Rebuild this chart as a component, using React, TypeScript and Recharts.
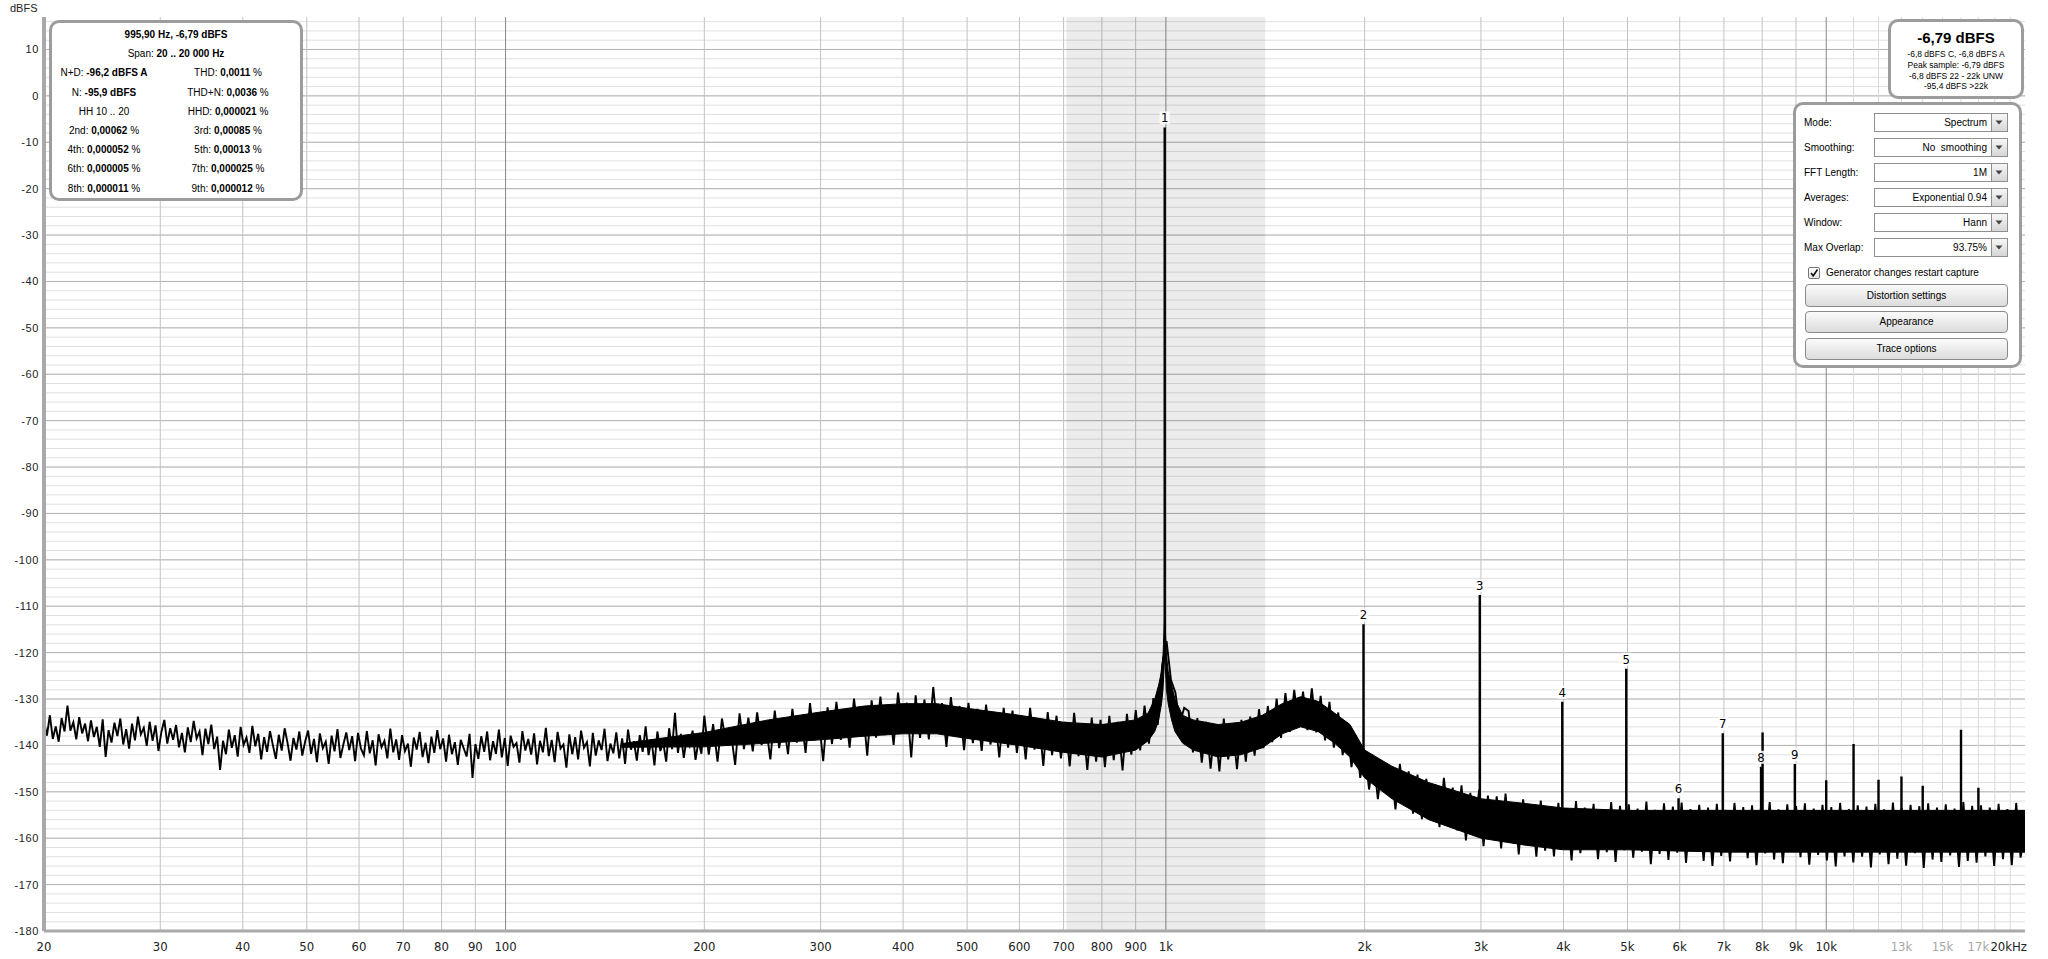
import React from "react";
import {
  ComposedChart, Line, Area, Scatter, XAxis, YAxis, CartesianGrid, ReferenceArea,
} from "recharts";

// noise trace, log-spaced bins per decade (dBFS)
const lowDecade = [ // 20 .. 200 Hz, 225 bins
  -134.8, -137.9, -133.5, -138.6, -135.9, -139.2, -134.1, -137.0, -131.4, -136.8, -135.0, -138.7, -133.9, -137.4, -135.3,
  -139.1, -134.6, -138.2, -136.0, -140.3, -134.4, -142.5, -136.7, -139.4, -135.1, -138.0, -134.2, -139.8, -136.5, -140.7,
  -135.3, -138.9, -133.8, -137.6, -136.2, -140.1, -134.9, -139.0, -135.7, -141.2, -137.1, -134.5, -139.6, -136.3, -138.8,
  -135.6, -140.4, -137.3, -141.5, -136.1, -139.3, -134.7, -138.5, -137.0, -142.1, -136.4, -139.7, -135.5, -140.8, -138.1,
  -145.3, -139.0, -141.9, -136.6, -140.5, -137.8, -142.4, -136.0, -139.9, -138.3, -141.6, -135.8, -140.2, -137.5, -143.0,
  -138.2, -141.4, -136.9, -140.0, -142.9, -137.7, -141.1, -136.3, -139.5, -143.3, -138.4, -140.9, -137.0, -142.2, -139.1,
  -136.8, -141.8, -138.6, -143.6, -137.4, -140.6, -139.2, -144.0, -137.9, -141.3, -136.5, -142.7, -139.8, -137.2, -141.0,
  -138.0, -143.4, -137.3, -140.7, -142.1, -136.9, -141.7, -138.9, -144.3, -137.6, -140.4, -139.0, -142.8, -136.4, -141.5,
  -138.7, -143.1, -137.8, -141.2, -139.6, -144.6, -138.3, -140.9, -137.1, -142.5, -139.4, -143.8, -138.1, -141.6, -136.7,
  -140.8, -138.5, -143.5, -137.7, -141.9, -139.3, -144.2, -138.8, -140.6, -142.4, -137.5, -147.0, -139.7, -142.9, -138.0,
  -141.4, -137.0, -143.2, -139.1, -141.8, -136.6, -142.6, -138.4, -144.4, -137.9, -140.3, -139.5, -143.7, -136.9, -141.1,
  -138.6, -142.0, -137.4, -144.1, -139.0, -141.5, -136.2, -142.3, -138.8, -143.6, -137.1, -140.7, -139.8, -144.8, -137.6,
  -141.9, -138.2, -143.0, -136.8, -140.5, -139.3, -144.5, -137.3, -142.2, -138.9, -141.0, -136.4, -143.4, -139.6, -141.7,
  -137.2, -142.8, -138.5, -144.0, -136.6, -140.9, -139.1, -143.3, -137.8, -141.4, -135.9, -142.1, -138.7, -144.3, -137.0,
  -141.2, -139.4, -143.5, -136.3, -140.8, -133.0, -141.6, -137.5, -142.7, -138.3, -140.1, -136.8, -143.1, -139.0, -141.8,
];
const midDecade = [ // 200 .. 2000 Hz, 150 bins
  -133.6, -142.0, -135.4, -143.5, -134.2, -139.8, -136.9, -144.2, -133.1, -140.8,
  -134.0, -141.3, -132.9, -139.9, -135.8, -143.0, -132.5, -140.6, -134.7, -141.9,
  -132.1, -139.4, -133.7, -141.6, -130.9, -138.9, -134.2, -143.4, -131.8, -139.7,
  -130.6, -138.8, -132.4, -140.5, -129.9, -137.9, -131.7, -142.2, -130.3, -138.3,
  -129.5, -137.8, -131.3, -139.9, -128.6, -136.7, -130.8, -142.6, -129.2, -138.4,
  -130.1, -138.7, -127.4, -137.3, -130.9, -140.3, -129.6, -137.8, -131.5, -141.0,
  -130.8, -139.5, -132.1, -141.2, -131.2, -139.8, -133.4, -142.6, -131.9, -140.5,
  -132.5, -141.6, -133.8, -143.0, -131.9, -140.9, -134.3, -144.4, -132.8, -142.1,
  -133.6, -142.8, -134.9, -144.5, -133.0, -142.3, -135.2, -145.3, -134.0, -143.5,
  -134.5, -144.7, -133.6, -143.2, -134.9, -145.4, -133.2, -142.0, -132.4, -141.1,
  -131.4, -139.6, -129.8, -135.6, -122.8, -117.5, -125.9, -128.6, -135.4, -131.9,
  -132.6, -141.5, -134.1, -143.7, -134.9, -145.0, -135.5, -145.6, -134.2, -143.0,
  -136.0, -145.1, -134.5, -143.5, -133.8, -142.2, -132.2, -140.6, -131.5, -139.3,
  -129.9, -138.4, -128.7, -137.1, -128.0, -136.0, -128.4, -136.7, -127.7, -137.2,
  -129.3, -138.9, -130.6, -140.5, -132.9, -142.1, -135.1, -144.7, -137.8, -147.0,
];
const highDecade = [ // 2 .. 20 kHz, 150 bins
  -141.2, -149.5, -142.8, -151.6, -143.4, -150.2, -145.1, -153.8, -144.0, -152.3,
  -145.6, -154.7, -146.3, -155.9, -147.2, -154.1, -148.4, -157.6, -147.0, -156.2,
  -149.1, -158.3, -148.6, -160.5, -150.2, -158.8, -149.5, -161.7, -150.8, -159.6,
  -151.0, -162.2, -150.4, -160.8, -152.3, -163.5, -151.6, -161.1, -152.8, -164.0,
  -151.9, -162.7, -153.1, -163.9, -152.4, -161.6, -153.5, -164.8, -152.0, -163.2,
  -153.4, -162.1, -152.6, -164.5, -153.8, -163.0, -152.2, -165.1, -153.0, -162.6,
  -152.7, -164.2, -153.6, -162.9, -152.1, -165.6, -153.9, -163.4, -152.5, -164.7,
  -153.2, -163.1, -152.3, -165.3, -153.7, -162.4, -152.8, -164.9, -153.4, -166.0,
  -152.6, -163.8, -153.9, -165.0, -152.4, -162.7, -153.3, -164.3, -152.9, -165.8,
  -153.5, -163.3, -152.2, -164.6, -153.8, -165.4, -152.7, -162.8, -153.1, -164.1,
  -152.5, -165.7, -153.6, -163.6, -152.8, -164.8, -153.3, -166.1, -152.4, -163.9,
  -153.7, -165.2, -152.9, -164.0, -153.2, -166.3, -152.6, -163.5, -153.8, -165.6,
  -152.3, -164.4, -153.5, -165.9, -152.8, -163.2, -153.1, -166.4, -152.5, -164.6,
  -153.4, -165.1, -152.7, -163.7, -153.6, -166.2, -152.2, -164.9, -153.0, -165.3,
  -152.9, -163.9, -153.4, -166.0, -152.6, -164.5, -153.7, -165.8, -152.4, -164.2,
];
const traceEnd = -158.6;

// dense core of the noise band (incl. the skirt of the fundamental)
const bandFreq = [150, 200, 250, 300, 350, 400, 450, 500, 600, 700, 800, 900, 940, 962, 975, 985, 990, 994, 996, 998, 1002, 1008, 1020, 1032, 1060, 1100, 1200, 1300, 1400, 1500, 1600, 1700, 1800, 1900, 2000, 2200, 2500, 3000, 3500, 4000, 5000, 7000, 10000, 14000, 20000];
const bandHi = [-139.6, -137.2, -134.5, -132.8, -131.5, -131, -131, -132, -133.5, -135, -135.5, -134.5, -133, -130, -127, -124, -120.5, -115, -112, -115, -120.5, -124, -127, -130, -133.5, -134.5, -135.5, -135, -133.5, -131, -129.5, -130.5, -133, -135.5, -141, -144.5, -148, -151.5, -152.5, -153.5, -154, -154, -154, -154, -154];
const bandLo = [-140.4, -140.3, -139.5, -138.8, -138, -137.5, -137.5, -138.5, -140, -141.5, -142.5, -141, -139, -137, -134.5, -131, -128, -123, -120, -123, -128, -131, -134.5, -137, -139.5, -141, -142.5, -142, -140.5, -137.5, -136, -137, -139.5, -142.5, -147, -151.5, -156, -160, -161.5, -162.5, -162.5, -163, -163, -163, -163];

// fundamental + harmonics
const harmNo = ["1", "2", "3", "4", "5", "6", "7", "8", "9"];
const harmFreq = [995.9, 1991.8, 2987.7, 3983.6, 4979.5, 5975.4, 6971.3, 7967.2, 8963.1];
const harmDb = [-6.8, -113.9, -107.6, -130.6, -123.5, -151.4, -137.4, -144.6, -144.0];
const harmBase = [-118, -146, -155, -156, -156, -156, -156, -156, -156];

// other spurs
const spurFreq = [8010, 10000, 11000, 12000, 13000, 14000, 16000, 17000];
const spurDb = [-137.2, -147.5, -139.7, -147.4, -146.7, -148.7, -136.6, -149.1];

const xTicks = [20, 30, 40, 50, 60, 70, 80, 90, 100, 200, 300, 400, 500, 600, 700, 800, 900, 1000, 2000, 3000, 4000, 5000, 6000, 7000, 8000, 9000, 10000, 13000, 15000, 17000, 20000];
const xGrid = [30, 40, 50, 60, 70, 80, 90, 200, 300, 400, 500, 600, 700, 800, 900, 2000, 3000, 4000, 5000, 6000, 7000, 8000, 9000];
const xDecades = [100, 1000, 10000];
const xFine = [11000, 12000, 13000, 14000, 15000, 16000, 17000, 18000, 19000];
const yTicks = [10, 0, -10, -20, -30, -40, -50, -60, -70, -80, -90, -100, -110, -120, -130, -140, -150, -160, -170, -180];
const yMinor = Array.from({ length: 99 }, (_, i) => -180 + 2 * i);

const decades: [number, number[]][] = [[20, lowDecade], [200, midDecade], [2000, highDecade]];
const trace = decades.flatMap(([f0, vals]) => vals.map((v, i) => ({ f: f0 * Math.pow(10, i / vals.length), db: v })));
trace.push({ f: 20000, db: traceEnd });

const band = bandFreq.map((f, i) => ({ f, range: [bandLo[i], bandHi[i]] }));

const spikes: { f: number; db: number | null }[] = [];
harmFreq.forEach((f, i) => spikes.push({ f, db: harmBase[i] }, { f, db: harmDb[i] }, { f, db: null }));
spurFreq.forEach((f, i) => spikes.push({ f, db: -156 }, { f, db: spurDb[i] }, { f, db: null }));

const labels = harmFreq.map((f, i) => ({ f, db: harmDb[i], n: harmNo[i] }));

const NARROW = "'Liberation Sans Narrow', 'DejaVu Sans Condensed', 'Arial Narrow', sans-serif";
const UI = "'Liberation Sans', Arial, sans-serif";

function FreqTick(props: any) {
  const { x, y, payload } = props;
  const v = payload.value as number;
  const txt = v === 20000 ? "20kHz" : v >= 1000 ? `${v / 1000}k` : String(v);
  const faint = v === 13000 || v === 15000 || v === 17000;
  const anchor = v === 20000 ? "end" : "middle";
  const dx = v === 20000 ? 2 : 0;
  return (
    <text x={x + dx} y={y} dy="0.71em" textAnchor={anchor} fill={faint ? "#a8a8a8" : "#222"} fontSize={13} fontFamily={NARROW}>
      {txt}
    </text>
  );
}

function PeakLabel(props: any) {
  const { cx, cy, payload } = props;
  return (
    <g>
      <rect x={cx - 5} y={cy - 16} width={10} height={13} fill="#fff" fillOpacity={0.85} />
      <text x={cx} y={cy - 5} textAnchor="middle" fontSize={13} fontFamily={NARROW} fill="#000">{payload.n}</text>
    </g>
  );
}

const panel: React.CSSProperties = {
  position: "absolute", background: "#fff", border: "3px solid #9c9c9c", borderRadius: 10,
  boxSizing: "border-box", fontFamily: UI, color: "#000",
};

function Row({ l, lv, r, rv }: { l: string; lv?: string; r: string; rv: string }) {
  return (
    <div style={{ display: "flex", height: 19.2, alignItems: "center", fontSize: 10 }}>
      <div style={{ width: 104, textAlign: "center" }}>{l}{lv !== undefined && <b> {lv.replace(" %", "")}</b>}{lv && lv.endsWith("%") ? " %" : ""}</div>
      <div style={{ width: 144, textAlign: "center" }}>{r} <b>{rv.replace(" %", "")}</b>{rv.endsWith("%") ? " %" : ""}</div>
    </div>
  );
}

function Drop({ top, label, value }: { top: number; label: string; value: string }) {
  return (
    <>
      <div style={{ position: "absolute", left: 8, top, height: 19, lineHeight: "19px", fontSize: 10 }}>{label}</div>
      <div style={{ position: "absolute", left: 78, top, width: 118, height: 19, boxSizing: "border-box", border: "1px solid #8f8f8f", background: "#fff", fontSize: 10, lineHeight: "17px", textAlign: "right", paddingRight: 4, whiteSpace: "pre" }}>{value}</div>
      <div style={{ position: "absolute", left: 196, top, width: 16, height: 19, boxSizing: "border-box", border: "1px solid #8f8f8f", borderLeft: "none", background: "linear-gradient(#f6f6f6,#d6d6d6)" }}>
        <svg width={14} height={17} style={{ display: "block" }}><path d="M3.5 6.5 L10.5 6.5 L7 10.5 Z" fill="#444" /></svg>
      </div>
    </>
  );
}

function Btn({ top, h, text }: { top: number; h: number; text: string }) {
  return (
    <div style={{ position: "absolute", left: 9, top, width: 203, height: h, boxSizing: "border-box", border: "1px solid #8a8a8a", borderRadius: 4, background: "linear-gradient(#fbfbfb,#dcdcdc)", fontSize: 10, lineHeight: `${h - 2}px`, textAlign: "center" }}>{text}</div>
  );
}

export default function App() {
  return (
    <div style={{ position: "absolute", left: 0, top: 0, width: 2048, height: 959, background: "#fff", overflow: "hidden" }}>
      <ComposedChart width={2048} height={959} margin={{ top: 17, right: 23, bottom: 0, left: 4 }}>
        <CartesianGrid horizontal vertical={false} horizontalValues={yMinor} stroke="#e0e0e0" />
        <CartesianGrid horizontal vertical={false} horizontalValues={yTicks} stroke="#b4b4b4" />
        <CartesianGrid horizontal={false} vertical verticalValues={xFine} stroke="#dadada" />
        <CartesianGrid horizontal={false} vertical verticalValues={xGrid} stroke="#c2c2c2" />
        <CartesianGrid horizontal={false} vertical verticalValues={xDecades} stroke="#888" />
        <XAxis dataKey="f" type="number" scale="log" domain={[20, 20000]} allowDataOverflow ticks={xTicks}
          tick={<FreqTick />} tickLine={false} tickSize={0} tickMargin={11} height={28} interval={0}
          axisLine={{ stroke: "#a9a9a9", strokeWidth: 3 }} />
        <XAxis xAxisId="top" orientation="top" dataKey="f" type="number" scale="log" domain={[20, 20000]} height={0}
          tick={false} tickLine={false} axisLine={{ stroke: "#b9b9b9", strokeWidth: 2 }} />
        <YAxis type="number" domain={[-180, 17]} allowDataOverflow ticks={yTicks} interval={0} width={40}
          tickLine={false} tickSize={0} tickMargin={5}
          tick={{ fontSize: 11, fill: "#222", fontFamily: UI, letterSpacing: 0.6 }}
          axisLine={{ stroke: "#a9a9a9", strokeWidth: 4 }} />
        <YAxis yAxisId="right" orientation="right" type="number" domain={[-180, 17]} width={0}
          tick={false} tickLine={false} axisLine={{ stroke: "#b9b9b9", strokeWidth: 3 }} />
        <ReferenceArea x1={707} x2={1414} y1={-180} y2={17} fill="#000" fillOpacity={0.075} stroke="none" />
        <Area data={band} dataKey="range" type="linear" stroke="#000" strokeWidth={1} fill="#000" fillOpacity={1} isAnimationActive={false} />
        <Line data={trace} dataKey="db" type="linear" stroke="#000" strokeWidth={1.9} dot={false} isAnimationActive={false} />
        <Line data={spikes} dataKey="db" type="linear" stroke="#000" strokeWidth={2.4} dot={false} connectNulls={false} isAnimationActive={false} />
        <Scatter data={labels} dataKey="db" shape={<PeakLabel />} isAnimationActive={false} />
      </ComposedChart>

      <div style={{ position: "absolute", left: 10, top: 2, fontSize: 11, fontFamily: UI, color: "#222" }}>dBFS</div>

      <div style={{ ...panel, left: 49, top: 20, width: 254, height: 181, paddingTop: 2 }}>
        <div style={{ height: 19.2, lineHeight: "19.2px", fontSize: 10, textAlign: "center", fontWeight: 700 }}>995,90 Hz, -6,79 dBFS</div>
        <div style={{ height: 19.2, lineHeight: "19.2px", fontSize: 10, textAlign: "center" }}>Span: <b>20 .. 20 000 Hz</b></div>
        <Row l="N+D:" lv="-96,2 dBFS A" r="THD:" rv="0,0011 %" />
        <Row l="N:" lv="-95,9 dBFS" r="THD+N:" rv="0,0036 %" />
        <Row l="HH 10 .. 20" r="HHD:" rv="0,000021 %" />
        <Row l="2nd:" lv="0,00062 %" r="3rd:" rv="0,00085 %" />
        <Row l="4th:" lv="0,000052 %" r="5th:" rv="0,00013 %" />
        <Row l="6th:" lv="0,000005 %" r="7th:" rv="0,000025 %" />
        <Row l="8th:" lv="0,000011 %" r="9th:" rv="0,000012 %" />
      </div>

      <div style={{ ...panel, left: 1888, top: 19, width: 136, height: 80, textAlign: "center" }}>
        <div style={{ position: "absolute", left: 0, right: 0, top: 7, fontSize: 15, fontWeight: 700, lineHeight: "18px" }}>-6,79 dBFS</div>
        <div style={{ position: "absolute", left: 0, right: 0, top: 27, fontSize: 8.5, lineHeight: "10.8px" }}>
          <div>-6,8 dBFS C, -6,8 dBFS A</div>
          <div>Peak sample: -6,79 dBFS</div>
          <div>-6,8 dBFS 22 - 22k UNW</div>
          <div>-95,4 dBFS &gt;22k</div>
        </div>
      </div>

      <div style={{ ...panel, left: 1793, top: 102, width: 229, height: 266 }}>
        <Drop top={8} label="Mode:" value="Spectrum" />
        <Drop top={33} label="Smoothing:" value="No  smoothing" />
        <Drop top={58} label="FFT Length:" value="1M" />
        <Drop top={83} label="Averages:" value="Exponential 0.94" />
        <Drop top={108} label="Window:" value="Hann" />
        <Drop top={133} label="Max Overlap:" value="93.75%" />
        <div style={{ position: "absolute", left: 12, top: 162, width: 12, height: 12, boxSizing: "border-box", border: "1px solid #777", borderRadius: 2, background: "linear-gradient(#fff,#e4e4e4)" }}>
          <svg width={10} height={10} style={{ display: "block" }}><path d="M2 5 L4.2 7.8 L8.5 1.5" stroke="#111" strokeWidth={1.6} fill="none" /></svg>
        </div>
        <div style={{ position: "absolute", left: 30, top: 161, fontSize: 10, lineHeight: "14px" }}>Generator changes restart capture</div>
        <Btn top={179} h={23} text="Distortion settings" />
        <Btn top={206} h={22} text="Appearance" />
        <Btn top={233} h={22} text="Trace options" />
      </div>
    </div>
  );
}
